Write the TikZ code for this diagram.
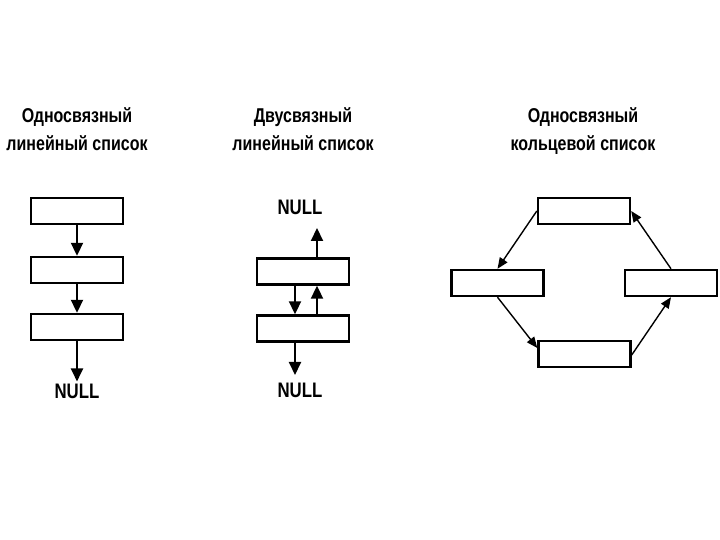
\documentclass[tikz,border=0pt]{standalone}
\usepackage{fontspec}
\setmainfont{Liberation Sans}[FakeStretch=0.8]
\usetikzlibrary{arrows.meta}

\tikzset{
  cell/.style={draw, line width=2.4pt, minimum width=92pt, minimum height=26pt, inner sep=0pt},
  heading/.style={align=center, font=\fontsize{20}{28}\selectfont\bfseries},
  nullname/.style={font=\fontsize{21}{22}\selectfont\bfseries, inner sep=2pt},
  link/.style={line width=2pt, -{Triangle[length=13pt,width=12pt]}},
  ringlink/.style={line width=1.4pt, -{Triangle[length=11pt,width=9pt]}}
}

\begin{document}
\begin{tikzpicture}[x=1pt,y=1pt]
\useasboundingbox (0,0) rectangle (720,540);

% Headings
\node[heading] (head1) at (77, 409) {\strut Односвязный\\\strut линейный список};
\node[heading] (head2) at (303, 409) {\strut Двусвязный\\\strut линейный список};
\node[heading] (head3) at (583, 409) {\strut Односвязный\\\strut кольцевой список};

% Singly linked list
\node[cell] (a1) at (77, 329) {};
\node[cell] (a2) at (77, 270) {};
\node[cell] (a3) at (77, 213) {};
\node[nullname] (nulla) at (77, 149) {NULL};
\draw[link] (a1) -- (a2);
\draw[link] (a2) -- (a3);
\draw[link] (a3) -- (nulla);

% Doubly linked list
\node[nullname] (nullb) at (300, 333) {NULL};
\node[cell] (m1) at (303, 268.5) {};
\node[cell] (m2) at (303, 211.5) {};
\node[nullname] (nullc) at (300, 150) {NULL};
\coordinate (upend) at (317, 312);
\coordinate (downend) at (295, 165);
\draw[link] ([xshift=14pt]m1.north) -- (upend);
\draw[link] ([xshift=-8pt]m1.south) -- ([xshift=-8pt]m2.north);
\draw[link] ([xshift=14pt]m2.north) -- ([xshift=14pt]m1.south);
\draw[link] ([xshift=-8pt]m2.south) -- (downend);

% Circular list
\node[cell] (r1) at (584, 329) {};
\node[cell] (r2) at (497.5, 257) {};
\node[cell] (r3) at (671, 257) {};
\node[cell] (r4) at (584.5, 186) {};
\draw[ringlink] (r1.west) -- (r2.north);
\draw[ringlink] (r2.south) -- ([yshift=6pt]r4.west);
\draw[ringlink] ([yshift=-1pt]r4.east) -- (r3.south);
\draw[ringlink] (r3.north) -- (r1.east);

\end{tikzpicture}
\end{document}
